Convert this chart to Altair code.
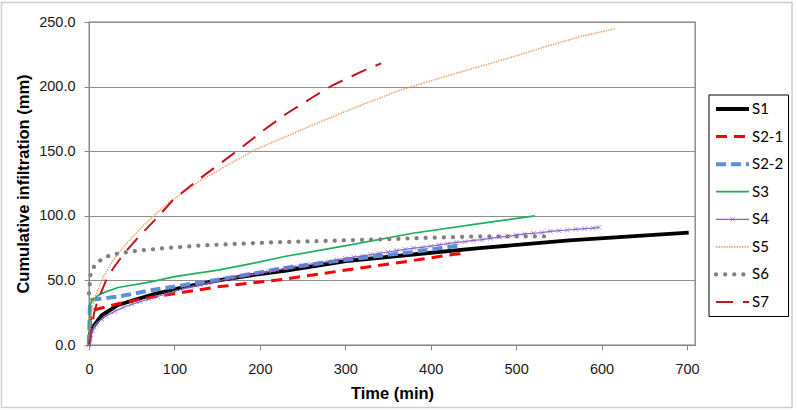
import altair as alt
import pandas as pd

# ---------------- data ----------------
names = ["S1", "S2-1", "S2-2", "S3", "S4", "S5", "S6", "S7"]

S1_t = [0, 1, 3.5, 15, 34, 74, 112, 151, 190, 229, 301, 379, 457, 562, 702]
S1_v = [0, 8, 13, 23, 31, 39, 45, 50, 54, 57.5, 65, 70, 75, 81, 87]

S21_t = [0, 2, 5, 34, 74, 112, 151, 190, 229, 301, 370, 436]
S21_v = [0, 22, 27, 32, 37, 41, 45, 48, 51, 58, 64.5, 71]

S22_t = [0, 1, 3.5, 34, 74, 112, 151, 190, 223, 301, 379, 434]
S22_v = [0, 30, 35, 37.5, 42.5, 46.5, 50.5, 55, 59, 66, 72, 77]

S3_t = [0, 1, 3.5, 15, 34, 74, 100, 151, 190, 229, 301, 379, 457, 522]
S3_v = [0, 30, 35, 40, 44.5, 49, 53, 58, 63, 68.5, 77, 86.5, 94, 100]

S4_t = [0, 1, 2, 4, 6, 8, 10, 15, 20, 30, 40, 50, 60, 70, 80, 90, 100, 110, 120,
        130, 140, 150, 160, 170, 180, 190, 200, 210, 220, 230, 240, 250, 260, 270,
        280, 290, 300, 310, 320, 330, 340, 350, 360, 370, 380, 390, 400, 410, 420,
        430, 440, 450, 460, 470, 480, 490, 500, 510, 520, 530, 540, 550, 560, 570,
        580, 590, 597]
S4_v = [0, 5, 8, 11, 14, 16, 17.5, 20, 22.5, 26, 29, 31.5, 33.5, 35.5, 37.5, 39.5,
        41.5, 43.5, 45, 46.5, 48, 49.5, 51, 52, 53.5, 54.5, 55.5, 57, 58, 59.5, 60.5,
        61.5, 62.5, 63.5, 64.5, 66, 67, 68, 69, 70, 71, 72, 73, 74, 75, 75.5, 76.5,
        77.5, 78.5, 79.5, 80, 81, 81.5, 82.5, 83.5, 84, 85, 86, 86.5, 87, 88, 88.5,
        89, 89.5, 90, 90.5, 91]

S5_t = [0, 2, 5, 10, 17, 25, 34, 46, 60, 74, 93, 132, 194, 268, 320, 363, 418,
        496, 535, 574, 617]
S5_v = [0, 22, 32, 42, 53, 62, 71, 80, 90, 99, 110, 128, 151, 172, 186, 197, 208,
        223, 231, 238.5, 245]

S6_t = [0, 1, 2, 7, 16, 27, 36, 57, 89, 130, 162, 217, 270, 330, 400, 449, 500, 535]
S6_v = [40, 48, 56, 62, 67, 70, 71, 73, 75, 77, 78, 79.5, 80.5, 81.5, 83, 84, 84, 84]

S7_t = [0, 3, 6, 10, 20, 28, 40, 60, 79, 98, 130, 171, 204, 231, 260, 285, 317, 342]
S7_v = [0, 12, 25, 34, 50, 59, 70, 85, 98, 112, 129, 149, 166, 179, 191, 201, 211, 218]

x_ticks = [0, 100, 200, 300, 400, 500, 600, 700]
y_ticks = [0, 50, 100, 150, 200, 250]

series = {
    "S1": (S1_t, S1_v), "S2-1": (S21_t, S21_v), "S2-2": (S22_t, S22_v),
    "S3": (S3_t, S3_v), "S4": (S4_t, S4_v), "S5": (S5_t, S5_v),
    "S6": (S6_t, S6_v), "S7": (S7_t, S7_v),
}
rows = []
for name in names:
    ts, vs = series[name]
    for t, v in zip(ts, vs):
        rows.append({"series": name, "t": t, "v": v})
df = pd.DataFrame(rows)

# ---------------- styles ----------------
styles = {
    "S1": dict(color="#000000", strokeWidth=3.9),
    "S2-1": dict(color="#FF0000", strokeWidth=3, strokeDash=[11, 7]),
    "S2-2": dict(color="#5B8FD6", strokeWidth=4, strokeDash=[10, 5]),
    "S3": dict(color="#1DAF5C", strokeWidth=1.75),
    "S4": dict(color="#8A63C8", strokeWidth=1.2),
    "S5": dict(color="#EE9A56", strokeWidth=1.6, strokeDash=[1.3, 1.3]),
    "S6": dict(color="#808080", strokeWidth=4.2, strokeDash=[0.1, 9], strokeCap="round"),
    "S7": dict(color="#C0141E", strokeWidth=2, strokeDash=[16, 10]),
}
XMARK = "M-1,-1L1,1M-1,1L1,-1"
FONT = "Liberation Sans"

x_enc = alt.X(
    "t:Q",
    scale=alt.Scale(domain=[0, 709.4], nice=False, zero=False),
    axis=alt.Axis(
        values=x_ticks, format="d", grid=False, domainColor="#868686",
        tickColor="#868686", tickSize=5, labelPadding=12, labelFlush=False,
        labelFont=FONT, labelFontSize=14.5, labelColor="#1a1a1a",
        title="Time (min)", titleFont=FONT, titleFontSize=16.5, titleFontWeight="bold",
        titleColor="#000000", titleX=303, titleY=48, titleBaseline="middle",
        titleAlign="center",
    ),
)
y_enc = alt.Y(
    "v:Q",
    scale=alt.Scale(domain=[0, 250], nice=False),
    axis=alt.Axis(
        values=y_ticks, format=".1f", grid=True, gridColor="#8E8E8E", gridWidth=1,
        domainColor="#868686", tickColor="#868686", tickSize=5, labelPadding=9,
        labelFont=FONT, labelFontSize=14.5, labelColor="#1a1a1a",
        title="Cumulative infiltration (mm)", titleFont=FONT, titleFontSize=16.5,
        titleFontWeight="bold", titleColor="#000000", titleX=-65.5, titleY=161.5,
        titleBaseline="middle", titleAlign="center", titleAngle=270,
    ),
)

base = alt.Chart(df).encode(x=x_enc, y=y_enc)
main_layers = []
for name in names:
    main_layers.append(
        base.transform_filter(alt.datum.series == name).mark_line(**styles[name])
    )
main_layers.append(
    base.transform_filter(alt.datum.series == "S4").mark_point(
        shape=XMARK, filled=False, size=22, strokeWidth=1, color=styles["S4"]["color"]
    )
)
main = alt.layer(*main_layers)

# ---------------- legend (drawn by hand) ----------------
leg = pd.DataFrame({"series": names})
one = pd.DataFrame({"k": [0]})
ly = alt.Y(
    "series:N",
    scale=alt.Scale(type="point", domain=names, range=[87, 280], padding=0),
    axis=None,
)
legend_layers = [
    alt.Chart(one).mark_rect(fill="white", stroke="#000000", strokeWidth=1).encode(
        x=alt.value(620), x2=alt.value(699.5), y=alt.value(73), y2=alt.value(294.5)
    ),
    alt.Chart(one).mark_rect(fillOpacity=0, stroke="#CFCFCF", strokeWidth=1.5).encode(
        x=alt.value(-87.5), x2=alt.value(703), y=alt.value(-19.5), y2=alt.value(385.5)
    ),
]
for name in names:
    st = dict(styles[name])
    if name == "S7":
        st["strokeDash"] = [17, 10]
    legend_layers.append(
        alt.Chart(leg).transform_filter(alt.datum.series == name).mark_rule(**st).encode(
            x=alt.value(627), x2=alt.value(660), y=ly
        )
    )
legend_layers.append(
    alt.Chart(leg).transform_filter(alt.datum.series == "S4").mark_point(
        shape=XMARK, filled=False, size=22, strokeWidth=1, color=styles["S4"]["color"]
    ).encode(x=alt.value(643.5), y=ly)
)
legend_layers.append(
    alt.Chart(leg).mark_text(
        align="left", baseline="middle", font="Lato", fontSize=15, color="#000000"
    ).encode(x=alt.value(663), y=ly, text="series:N")
)
legend = alt.layer(*legend_layers)

chart = (
    alt.layer(main, legend)
    .resolve_scale(x="independent", y="independent")
    .properties(
        width=606,
        height=323,
        autosize=alt.AutoSizeParams(type="none"),
        padding={"left": 89, "top": 22, "right": 102, "bottom": 65},
        background="white",
    )
    .configure_view(stroke="#7F7F7F", strokeWidth=1.3)
)

chart.save("out.html", embed_options={"renderer": "svg", "actions": False})
